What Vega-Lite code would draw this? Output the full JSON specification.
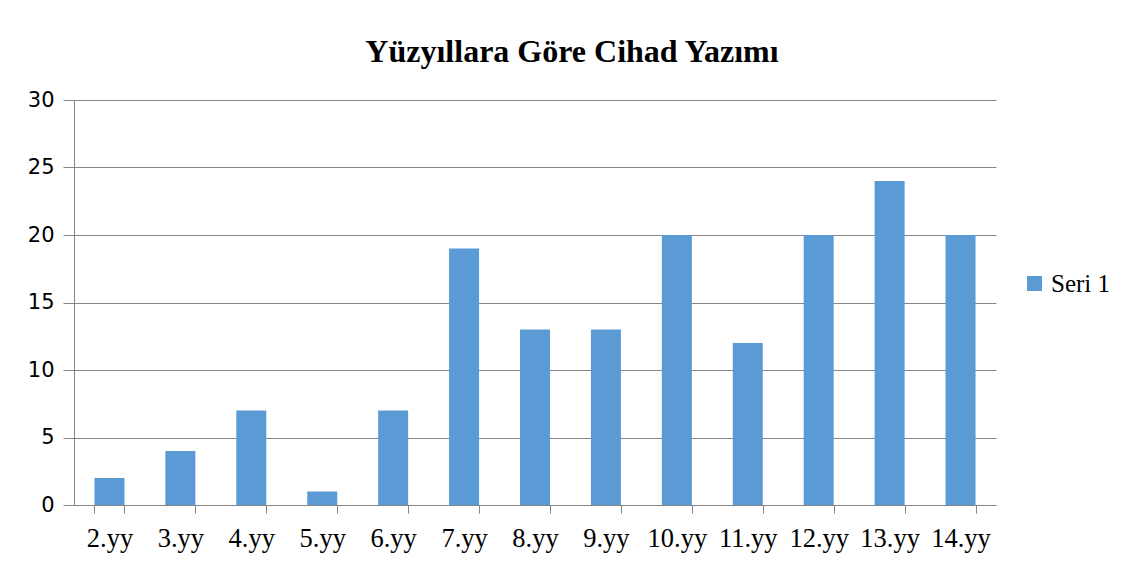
{
  "$schema": "https://vega.github.io/schema/vega-lite/v6.json",
  "autosize": "none",
  "width": 922,
  "height": 405,
  "padding": {"left": 74, "top": 100, "right": 134, "bottom": 62},
  "background": "white",
  "title": {
    "text": "Yüzyıllara Göre Cihad Yazımı",
    "font": "Liberation Serif",
    "fontSize": 32,
    "fontWeight": "bold",
    "color": "#000000",
    "anchor": "middle",
    "dx": 37,
    "offset": 20
  },
  "data": {
    "values": [
      {"century": "2.yy", "count": 2, "series": "Seri 1"},
      {"century": "3.yy", "count": 4, "series": "Seri 1"},
      {"century": "4.yy", "count": 7, "series": "Seri 1"},
      {"century": "5.yy", "count": 1, "series": "Seri 1"},
      {"century": "6.yy", "count": 7, "series": "Seri 1"},
      {"century": "7.yy", "count": 19, "series": "Seri 1"},
      {"century": "8.yy", "count": 13, "series": "Seri 1"},
      {"century": "9.yy", "count": 13, "series": "Seri 1"},
      {"century": "10.yy", "count": 20, "series": "Seri 1"},
      {"century": "11.yy", "count": 12, "series": "Seri 1"},
      {"century": "12.yy", "count": 20, "series": "Seri 1"},
      {"century": "13.yy", "count": 24, "series": "Seri 1"},
      {"century": "14.yy", "count": 20, "series": "Seri 1"}
    ]
  },
  "mark": {"type": "bar"},
  "encoding": {
    "x": {
      "field": "century",
      "type": "nominal",
      "sort": null,
      "scale": {"paddingInner": 0.577, "paddingOuter": 0.2885},
      "axis": {
        "title": null,
        "labelAngle": 0,
        "labelFont": "Liberation Serif",
        "labelFontSize": 26.5,
        "labelColor": "#000000",
        "labelPadding": 12,
        "tickBand": "extent",
        "tickSize": 8,
        "tickColor": "#868686",
        "domainColor": "#868686",
        "grid": false
      }
    },
    "y": {
      "field": "count",
      "type": "quantitative",
      "scale": {"domain": [0, 30]},
      "axis": {
        "title": null,
        "values": [0, 5, 10, 15, 20, 25, 30],
        "labelFont": "DejaVu Sans",
        "labelFontSize": 21,
        "labelColor": "#000000",
        "labelPadding": 9,
        "tickSize": 11,
        "tickColor": "#868686",
        "domainColor": "#868686",
        "grid": true,
        "gridColor": "#868686"
      }
    },
    "color": {
      "field": "series",
      "type": "nominal",
      "scale": {"range": ["#5B9BD5"]},
      "legend": {
        "title": null,
        "orient": "none",
        "legendX": 948,
        "legendY": 171,
        "symbolType": "square",
        "symbolSize": 225,
        "symbolStrokeWidth": 0,
        "labelFont": "Liberation Serif",
        "labelFontSize": 25,
        "labelColor": "#000000",
        "labelOffset": 4
      }
    }
  },
  "config": {"view": {"stroke": null}}
}
